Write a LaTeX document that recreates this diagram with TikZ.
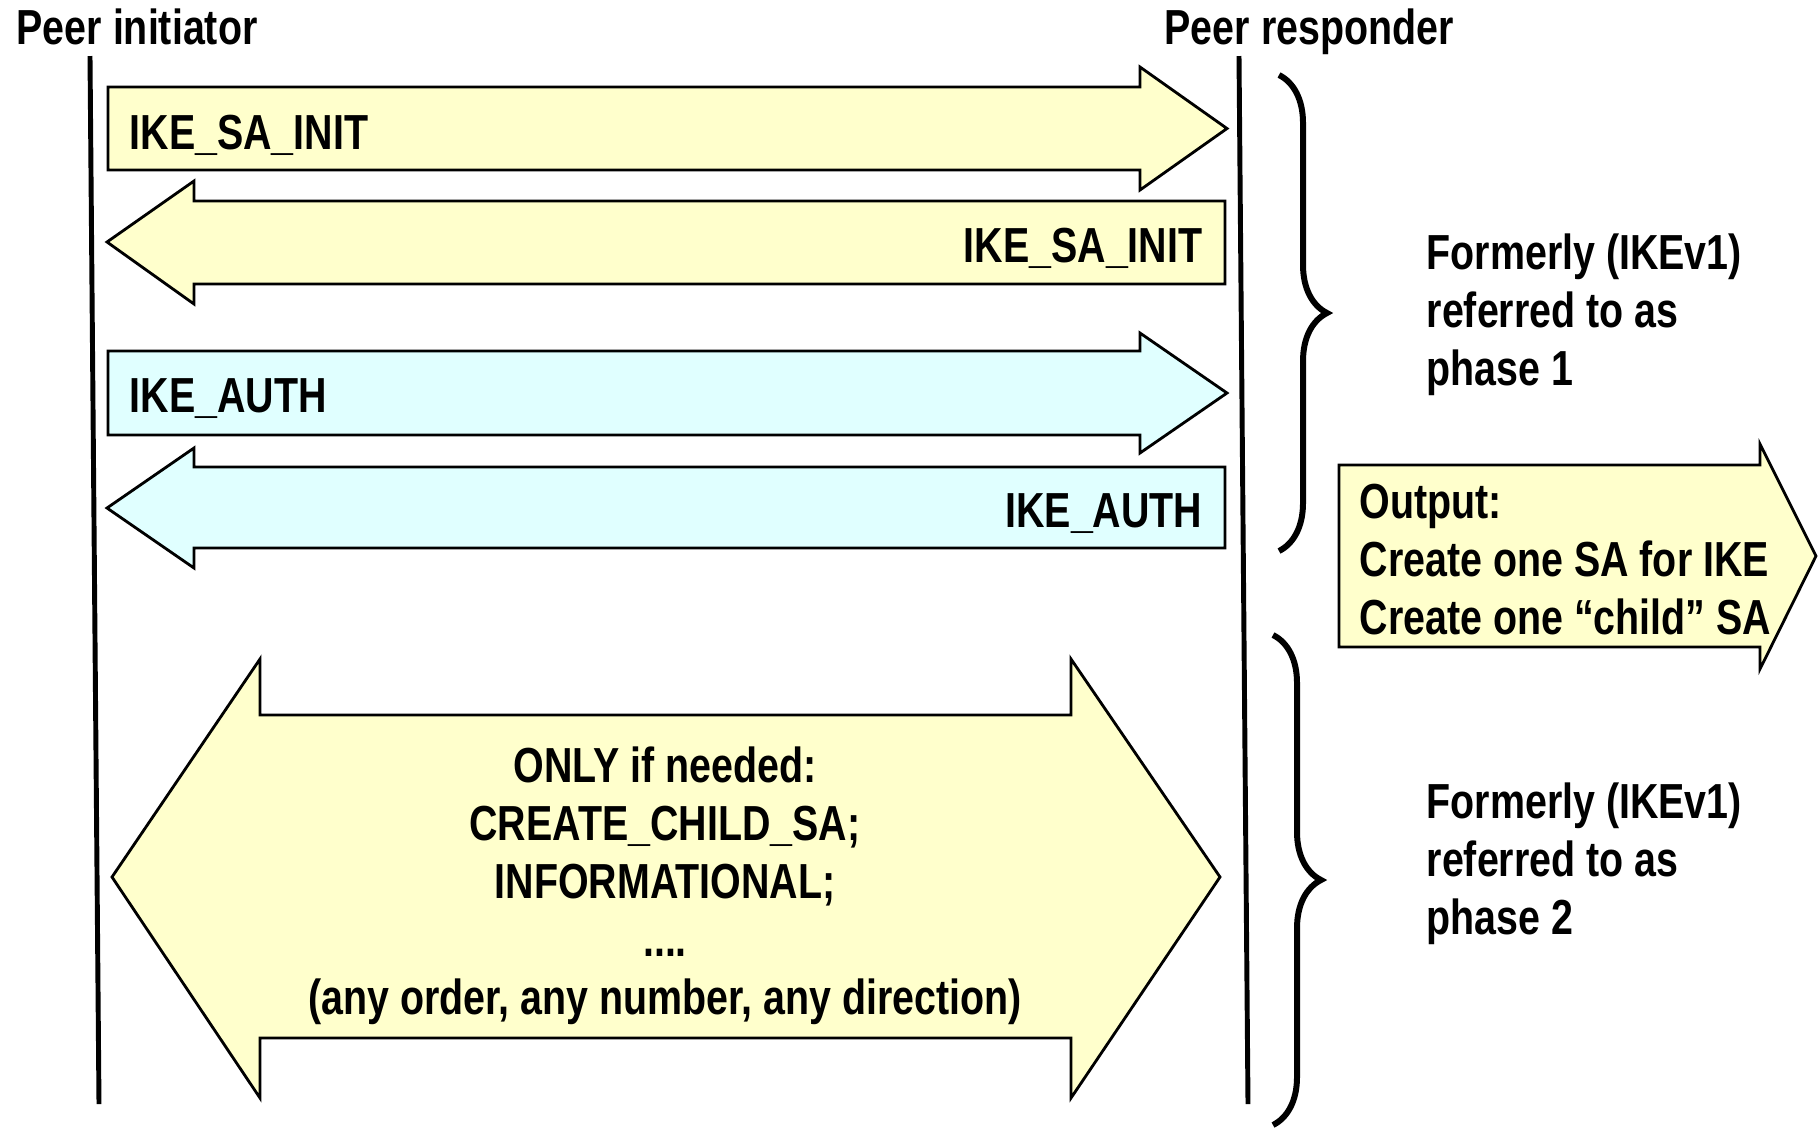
\documentclass[tikz,border=0pt]{standalone}
\usepackage{fontspec}
\setmainfont{Liberation Sans}[FakeStretch=0.8]
\usetikzlibrary{decorations.pathreplacing}

\definecolor{ikeyellow}{RGB}{255,255,204}
\definecolor{ikecyan}{RGB}{224,255,255}

\tikzset{
  lbl/.style={font=\fontsize{14}{16.5}\selectfont\bfseries, inner sep=0pt},
  lifeline/.style={line width=1.4pt},
  yellowmsg/.style={draw, line width=0.8pt, fill=ikeyellow, line join=miter},
  cyanmsg/.style={draw, line width=0.8pt, fill=ikecyan, line join=miter},
  phasebrace/.style={decorate, decoration={brace, amplitude=0.48cm}, line width=1.7pt}
}

\begin{document}
\begin{tikzpicture}[x=0.01cm, y=-0.01cm]
  \useasboundingbox (0,0) rectangle (1818,1129);

  % the two peers and their lifelines
  \node[lbl, anchor=base west] (initiator) at (16,44) {Peer initiator};
  \node[lbl, anchor=base west] (responder) at (1164,44) {Peer responder};
  \coordinate (initTop) at (90,56);
  \coordinate (initBot) at (99,1104);
  \coordinate (respTop) at (1239,56);
  \coordinate (respBot) at (1248,1104);
  \draw[lifeline] (initTop) -- (initBot);
  \draw[lifeline] (respTop) -- (respBot);

  % IKE_SA_INIT request / response
  \draw[yellowmsg] (108,87) -- (1140,87) -- (1140,67) -- (1227,128.5)
    -- (1140,190) -- (1140,170) -- (108,170) -- cycle;
  \node[lbl, anchor=west] (sainitreq) at (129,135) {IKE\_SA\_INIT};
  \draw[yellowmsg] (1225,201) -- (194,201) -- (194,181) -- (107,242)
    -- (194,304) -- (194,284) -- (1225,284) -- cycle;
  \node[lbl, anchor=east] (sainitresp) at (1203,248) {IKE\_SA\_INIT};

  % IKE_AUTH request / response
  \draw[cyanmsg] (108,351) -- (1140,351) -- (1140,333) -- (1227,393)
    -- (1140,453) -- (1140,435) -- (108,435) -- cycle;
  \node[lbl, anchor=west] (authreq) at (129,399) {IKE\_AUTH};
  \draw[cyanmsg] (1225,467) -- (194,467) -- (194,448) -- (107,508)
    -- (194,568) -- (194,548) -- (1225,548) -- cycle;
  \node[lbl, anchor=east] (authresp) at (1203,514) {IKE\_AUTH};

  % optional exchanges, both ways
  \draw[yellowmsg] (112,877) -- (260,659) -- (260,715) -- (1071,715)
    -- (1071,659) -- (1220,877) -- (1071,1098) -- (1071,1038)
    -- (260,1038) -- (260,1098) -- cycle;
  \node[lbl, align=center] (optional) at (665,886)
    {ONLY if needed:\\CREATE\_CHILD\_SA;\\INFORMATIONAL;\\....\\(any order, any number, any direction)};

  % phases
  \coordinate (braceOneTop) at (1279,75);
  \coordinate (braceOneBot) at (1279,551);
  \coordinate (braceTwoTop) at (1273,635);
  \coordinate (braceTwoBot) at (1273,1125);
  \draw[phasebrace] (braceOneTop) -- (braceOneBot);
  \draw[phasebrace] (braceTwoTop) -- (braceTwoBot);
  \node[lbl, align=left, anchor=west] (phaseone) at (1426,315)
    {Formerly (IKEv1)\\referred to as\\phase 1};
  \node[lbl, align=left, anchor=west] (phasetwo) at (1426,864)
    {Formerly (IKEv1)\\referred to as\\phase 2};

  % result of phase 1
  \draw[yellowmsg] (1339,465) -- (1760,465) -- (1760,444) -- (1816,556)
    -- (1760,669) -- (1760,647) -- (1339,647) -- cycle;
  \node[lbl, align=left, anchor=west] (output) at (1359,560)
    {Output:\\Create one SA for IKE\\Create one “child” SA};
\end{tikzpicture}
\end{document}
